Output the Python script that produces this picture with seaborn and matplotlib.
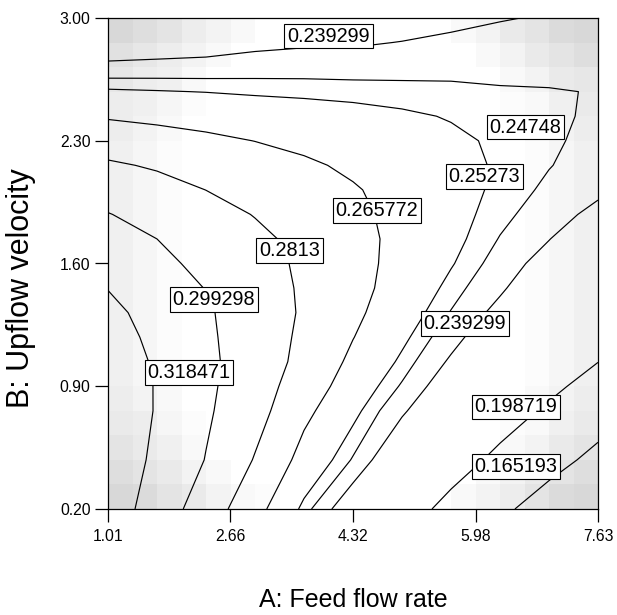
import numpy as np
import matplotlib
matplotlib.use("Agg")
import matplotlib.pyplot as plt
import seaborn as sns

# ---------------- data ----------------
A_VALUES = [1.010, 1.672, 2.334, 2.996, 3.658, 4.320, 4.982, 5.644, 6.306, 6.968, 7.630]
B_VALUES = [0.20, 0.48, 0.76, 0.90, 1.04, 1.18, 1.32, 1.46, 1.60, 1.74,
            1.88, 2.02, 2.16, 2.30, 2.44, 2.58, 2.72, 2.86, 3.00]

# response values on the (B rows, A columns) grid
Z_B020 = [0.3290, 0.3099, 0.2901, 0.2706, 0.2505, 0.2308, 0.2109, 0.1910, 0.1712, 0.1515, 0.1340]
Z_B048 = [0.3313, 0.3148, 0.2987, 0.2803, 0.2609, 0.2468, 0.2276, 0.2101, 0.1927, 0.1752, 0.1577]
Z_B076 = [0.3328, 0.3172, 0.3017, 0.2871, 0.2690, 0.2552, 0.2410, 0.2256, 0.2104, 0.1949, 0.1786]
Z_B090 = [0.3315, 0.3173, 0.3027, 0.2887, 0.2735, 0.2592, 0.2466, 0.2323, 0.2184, 0.2045, 0.1889]
Z_B104 = [0.3294, 0.3162, 0.3031, 0.2902, 0.2769, 0.2629, 0.2511, 0.2378, 0.2249, 0.2119, 0.1990]
Z_B118 = [0.3262, 0.3143, 0.3022, 0.2903, 0.2783, 0.2661, 0.2547, 0.2428, 0.2303, 0.2177, 0.2051]
Z_B132 = [0.3229, 0.3121, 0.3013, 0.2904, 0.2795, 0.2686, 0.2578, 0.2471, 0.2361, 0.2236, 0.2112]
Z_B146 = [0.3180, 0.3084, 0.2988, 0.2890, 0.2793, 0.2700, 0.2604, 0.2504, 0.2409, 0.2295, 0.2175]
Z_B160 = [0.3120, 0.3034, 0.2951, 0.2870, 0.2788, 0.2702, 0.2617, 0.2534, 0.2443, 0.2348, 0.2235]
Z_B174 = [0.3060, 0.2993, 0.2920, 0.2847, 0.2773, 0.2698, 0.2625, 0.2553, 0.2471, 0.2396, 0.2296]
Z_B188 = [0.2999, 0.2934, 0.2871, 0.2807, 0.2746, 0.2685, 0.2623, 0.2560, 0.2495, 0.2433, 0.2365]
Z_B202 = [0.2918, 0.2865, 0.2812, 0.2764, 0.2716, 0.2668, 0.2616, 0.2563, 0.2511, 0.2460, 0.2413]
Z_B216 = [0.2833, 0.2797, 0.2757, 0.2717, 0.2677, 0.2637, 0.2597, 0.2557, 0.2517, 0.2478, 0.2440]
Z_B230 = [0.2741, 0.2713, 0.2684, 0.2656, 0.2628, 0.2600, 0.2571, 0.2543, 0.2515, 0.2485, 0.2455]
Z_B244 = [0.2645, 0.2627, 0.2610, 0.2592, 0.2575, 0.2558, 0.2540, 0.2522, 0.2504, 0.2486, 0.2465]
Z_B258 = [0.2539, 0.2532, 0.2525, 0.2515, 0.2509, 0.2503, 0.2497, 0.2491, 0.2482, 0.2479, 0.2472]
Z_B272 = [0.2422, 0.2427, 0.2431, 0.2440, 0.2444, 0.2444, 0.2448, 0.2453, 0.2453, 0.2453, 0.2458]
Z_B286 = [0.2304, 0.2322, 0.2338, 0.2366, 0.2379, 0.2381, 0.2396, 0.2411, 0.2420, 0.2425, 0.2440]
Z_B300 = [0.2185, 0.2208, 0.2237, 0.2286, 0.2309, 0.2314, 0.2340, 0.2368, 0.2388, 0.2400, 0.2415]

LEVELS = [0.165193, 0.198719, 0.239299, 0.24748, 0.25273, 0.265772, 0.2813, 0.299298, 0.318471]

X_TICKS = [1.01, 2.66, 4.32, 5.98, 7.63]
Y_TICKS = [0.20, 0.90, 1.60, 2.30, 3.00]
X_LABEL = "A: Feed flow rate"
Y_LABEL = "B: Upflow velocity"

# background shading (design-space standard error look), hex level per cell, top row first
SHADE_ROWS = [
    "db9642000000002479cd",
    "a864200000000002479b",
    "86520000000000002478",
    "65310000000000001257",
    "64200000000000000246",
    "53100000000000000135",
    "53100000000000000135",
    "53100000000000000135",
    "53100000000000000135",
    "53100000000000000135",
    "53100000000000000135",
    "53100000000000000135",
    "53100000000000000135",
    "53100000000000000135",
    "53100000000000000135",
    "64200000000000000246",
    "76310000000000001257",
    "97520000000000002479",
    "b974200000000002479b",
    "dc9742100000002469cd",
]

# contour label placement (A, B) for each labelled level
LABELS = [
    (0.239299, 3.989, 2.897),
    (0.24748, 6.650, 2.378),
    (0.25273, 6.096, 2.096),
    (0.265772, 4.644, 1.902),
    (0.2813, 3.462, 1.674),
    (0.299298, 2.442, 1.395),
    (0.318471, 2.104, 0.978),
    (0.239299, 5.833, 1.258),
    (0.198719, 6.522, 0.782),
    (0.165193, 6.522, 0.442),
]

# ---------------- plotting ----------------
sns.set_theme(style="white")
plt.rcParams["font.family"] = ["Liberation Sans", "DejaVu Sans"]

Z = np.array([Z_B020, Z_B048, Z_B076, Z_B090, Z_B104, Z_B118, Z_B132, Z_B146,
              Z_B160, Z_B174, Z_B188, Z_B202, Z_B216, Z_B230, Z_B244, Z_B258,
              Z_B272, Z_B286, Z_B300])
shade = np.array([[255 - 3 * int(c, 16) for c in row] for row in SHADE_ROWS], dtype=float)

fig = plt.figure(figsize=(6.17, 6.15), dpi=100)
fig.patch.set_facecolor("white")
rect = [108 / 617, (615 - 509) / 615, 490 / 617, 491 / 615]

ax_bg = fig.add_axes(rect)
sns.heatmap(shade, ax=ax_bg, cmap="gray", vmin=0, vmax=255, cbar=False,
            xticklabels=False, yticklabels=False)
ax_bg.set_xlabel("")
ax_bg.set_ylabel("")
for s in ax_bg.spines.values():
    s.set_visible(False)

ax = fig.add_axes(rect, zorder=2)
ax.set_facecolor("none")
ax.contour(A_VALUES, B_VALUES, Z, levels=LEVELS, colors="black", linewidths=0.85)

for lv, a, b in LABELS:
    ax.text(a, b, f"{lv:g}", ha="center", va="center", fontsize=14.3, color="black",
            zorder=5,
            bbox=dict(boxstyle="square,pad=0.14", fc="white", ec="black", lw=0.8))

ax.set_xlim(1.01, 7.63)
ax.set_ylim(0.20, 3.00)
ax.set_xticks(X_TICKS)
ax.set_xticklabels([f"{t:.2f}" for t in X_TICKS])
ax.set_yticks(Y_TICKS)
ax.set_yticklabels([f"{t:.2f}" for t in Y_TICKS])
ax.tick_params(axis="both", direction="out", length=9.5, width=0.9, labelsize=11.3,
               colors="black", bottom=True, left=True, top=False, right=False)
ax.tick_params(axis="x", pad=5)
ax.tick_params(axis="y", pad=3)
for s in ax.spines.values():
    s.set_visible(True)
    s.set_color("black")
    s.set_linewidth(0.9)

ax.set_xlabel(X_LABEL, fontsize=18, color="black")
ax.set_ylabel(Y_LABEL, fontsize=22, color="black")
ax.xaxis.set_label_coords(0.5, -0.185)
ax.xaxis.label.set_va("center")
ax.yaxis.set_label_coords(-0.178, 0.45)
ax.yaxis.label.set_va("center")

fig.savefig("out.png", dpi=100)
